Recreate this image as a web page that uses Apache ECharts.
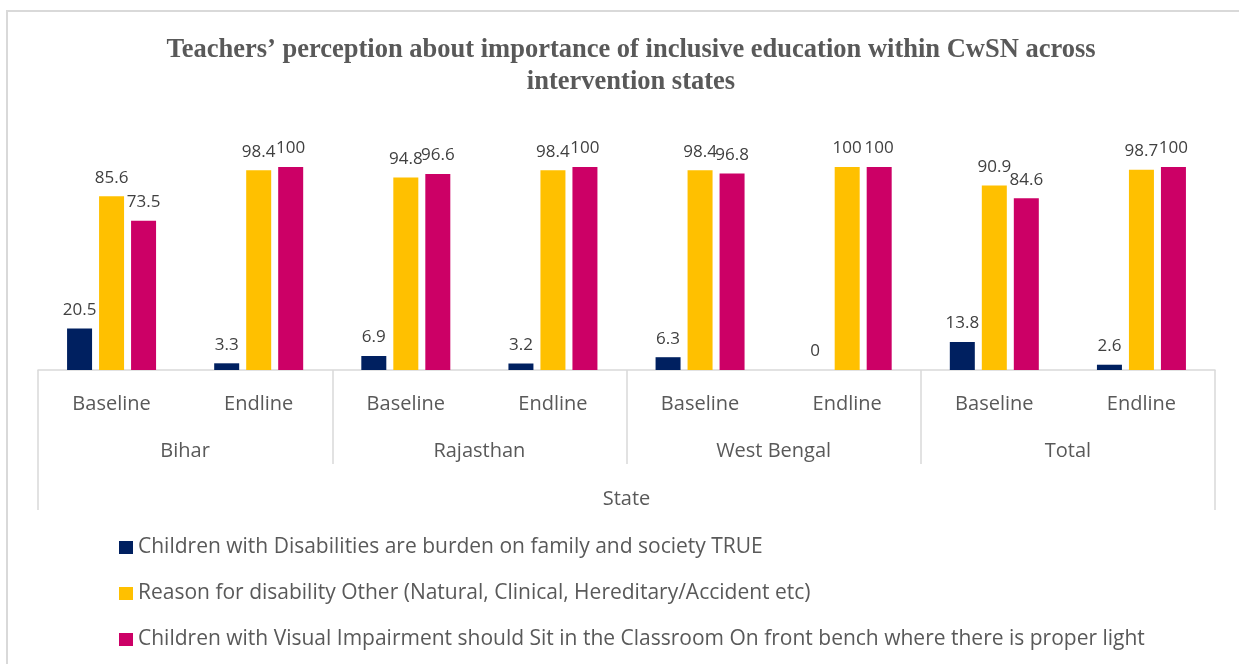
<!DOCTYPE html>
<html>
<head>
<meta charset="utf-8">
<title>Teachers' perception about importance of inclusive education</title>
<script src="https://cdn.jsdelivr.net/npm/echarts@6/dist/echarts.min.js"></script>
<style>
  html, body { margin: 0; padding: 0; background: #ffffff; }
  #chart { width: 1239px; height: 664px; }
</style>
</head>
<body>
<div id="chart"></div>
<script>
// Rounds within each state
const rounds = ['Baseline', 'Endline', 'Baseline', 'Endline', 'Baseline', 'Endline', 'Baseline', 'Endline'];
// States (each spans two rounds)
const states = ['Bihar', 'Rajasthan', 'West Bengal', 'Total'];
const axisTitle = ['State'];

// Percent of teachers agreeing with each statement
const burdenTrue = [20.5, 3.3, 6.9, 3.2, 6.3, 0, 13.8, 2.6];
const reasonOther = [85.6, 98.4, 94.8, 98.4, 98.4, 100, 90.9, 98.7];
const frontBench = [73.5, 100, 96.6, 100, 96.8, 100, 84.6, 100];

const seriesNames = [
  'Children with Disabilities are burden on family and society TRUE',
  'Reason for disability Other (Natural, Clinical, Hereditary/Accident etc)',
  'Children with Visual Impairment should Sit in the Classroom On front bench where there is proper light'
];
const seriesColors = ['#002060', '#FFC000', '#CC0066'];
const seriesData = [burdenTrue, reasonOther, frontBench];

const sansFont = '"Open Sans", Roboto, sans-serif';
const gridLine = '#d9d9d9';

const chart = echarts.init(document.getElementById('chart'));

const series = seriesData.map((data, i) => ({
  name: seriesNames[i],
  type: 'bar',
  xAxisIndex: 0,
  data: data,
  barWidth: 25,
  barGap: '28%',
  itemStyle: { color: seriesColors[i] },
  label: {
    show: true,
    position: 'top',
    distance: 10,
    color: '#404040',
    fontFamily: sansFont,
    fontSize: 17
  }
}));

chart.setOption({
  animation: false,
  backgroundColor: '#ffffff',
  title: {
    text: 'Teachers\u2019 perception about importance of inclusive education within CwSN across\nintervention states',
    left: 626,
    top: 29,
    textAlign: 'center',
    textStyle: {
      fontFamily: '"Liberation Serif", "Times New Roman", serif',
      fontWeight: 'bold',
      fontSize: 26.5,
      lineHeight: 32,
      color: '#595959'
    }
  },
  graphic: [{
    type: 'rect',
    shape: { x: 7, y: 11, width: 1400, height: 800 },
    style: { fill: null, stroke: gridLine, lineWidth: 2 },
    silent: true,
    z: -1
  }],
  legend: {
    orient: 'vertical',
    left: 114,
    top: 532,
    itemWidth: 14,
    itemHeight: 13,
    itemGap: 25,
    icon: 'rect',
    textStyle: { color: '#595959', fontFamily: sansFont, fontSize: 21 },
    data: seriesNames
  },
  grid: { left: 38, right: 24, top: 167, bottom: 294, containLabel: false },
  yAxis: {
    type: 'value',
    min: 0,
    max: 100,
    show: false
  },
  xAxis: [
    {
      type: 'category',
      position: 'bottom',
      data: rounds,
      axisLine: { show: true, onZero: false, lineStyle: { color: gridLine, width: 1.5 } },
      axisTick: { show: false },
      axisLabel: { interval: 0, margin: 24, color: '#595959', fontFamily: sansFont, fontSize: 20 }
    },
    {
      type: 'category',
      position: 'bottom',
      data: states,
      axisLine: { show: false, onZero: false },
      axisTick: { show: true, interval: 0, length: 94, lineStyle: { color: gridLine, width: 1.5 } },
      axisLabel: { interval: 0, margin: 71, color: '#595959', fontFamily: sansFont, fontSize: 20 }
    },
    {
      type: 'category',
      position: 'bottom',
      data: axisTitle,
      axisLine: { show: false, onZero: false },
      axisTick: { show: true, interval: 0, length: 140, lineStyle: { color: gridLine, width: 1.5 } },
      axisLabel: { interval: 0, margin: 119, color: '#595959', fontFamily: sansFont, fontSize: 20 }
    }
  ],
  series: series
});
</script>
</body>
</html>
